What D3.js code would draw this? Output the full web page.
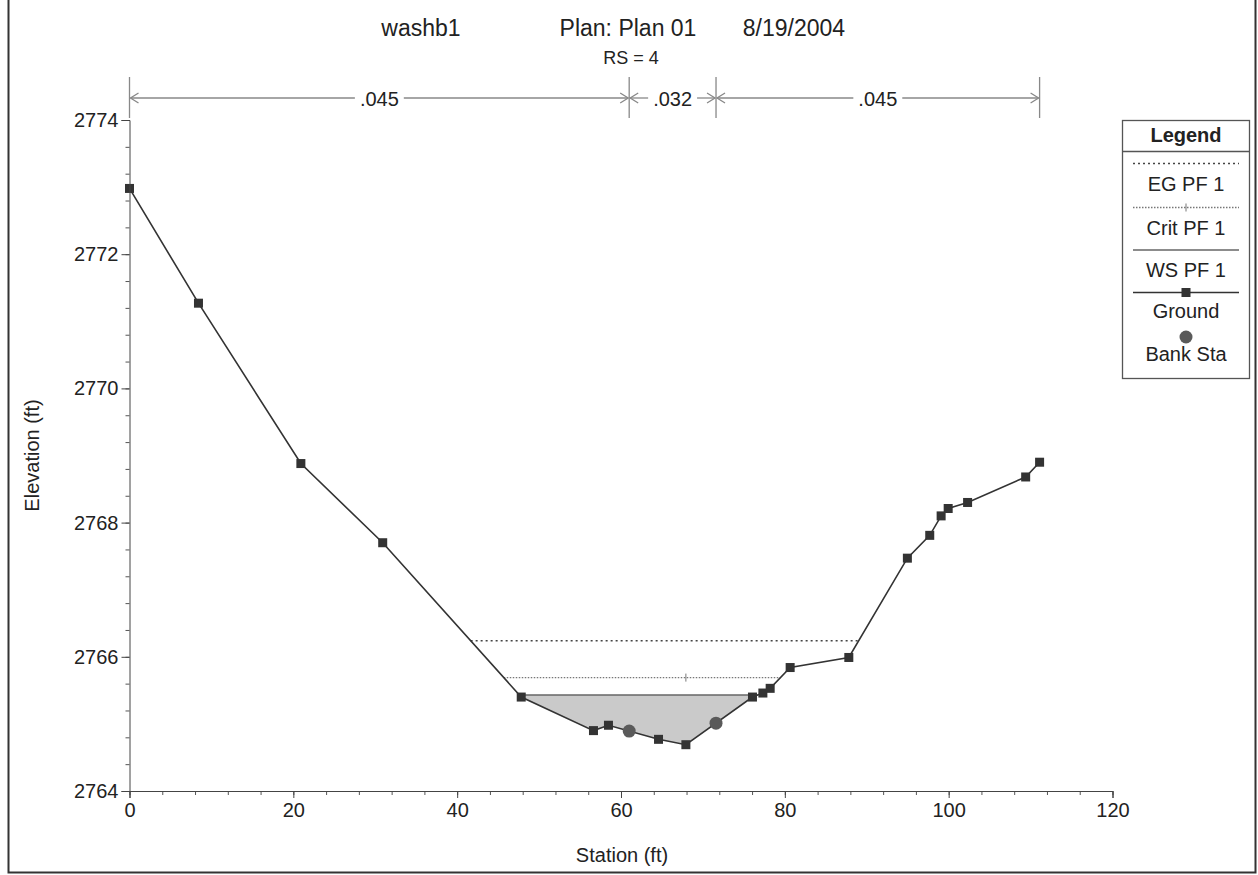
<!DOCTYPE html>
<html>
<head>
<meta charset="utf-8">
<script src="https://cdn.jsdelivr.net/npm/d3@7"></script>
<style>
  html, body { margin: 0; padding: 0; background: #fff; }
  svg { display: block; }
  text { font-family: Arial, 'Liberation Sans', sans-serif; fill: #222; }
</style>
</head>
<body>
<svg id="chart" width="1258" height="875"></svg>
<script>
// ground profile
let stations = [0, 8.42, 20.92, 30.91, 47.82, 56.64, 58.47, 64.58, 67.92, 76.05, 77.32, 78.21, 80.65, 87.81, 94.96, 97.69, 99.08, 99.94, 102.31, 109.40, 111.1]
let elevations = [2772.98, 2771.27, 2768.88, 2767.70, 2765.40, 2764.90, 2764.98, 2764.77, 2764.69, 2765.40, 2765.46, 2765.53, 2765.84, 2765.99, 2767.47, 2767.81, 2768.10, 2768.21, 2768.30, 2768.68, 2768.90]
let bankStations = [61.0, 71.6]

// water surface profiles
let profileNames = ['EG PF 1', 'Crit PF 1', 'WS PF 1']
let profileElev = [2766.24, 2765.69, 2765.43]

// manning n
let nValues = ['.045', '.032', '.045']
let nBreaks = [0, 61.0, 71.6, 111.1]

let xTicks = [0, 20, 40, 60, 80, 100, 120]
let yTicks = [2764, 2766, 2768, 2770, 2772, 2774]

let svg = d3.select('#chart')
let margin = { left: 129.5, right: 1112.5, top: 120, bottom: 791 }

let scaleX = d3.scaleLinear().domain([0, 120]).range([margin.left, margin.right])
let scaleY = d3.scaleLinear().domain([2764, 2774]).range([margin.bottom, margin.top])

let groundPts = stations.map((s, i) => [s, elevations[i]])

// elevation of ground at a station
function groundAt(x) {
  for (let i = 0; i < groundPts.length - 1; i++) {
    let a = groundPts[i], b = groundPts[i + 1]
    if (x >= a[0] && x <= b[0]) return a[1] + (b[1] - a[1]) * (x - a[0]) / (b[0] - a[0])
  }
  return null
}

// where a level crosses the ground on each side of the thalweg
function crossings(level) {
  let lo = d3.minIndex(elevations)
  let l = lo, r = lo
  while (l > 0 && elevations[l - 1] < level) l--
  while (r < elevations.length - 1 && elevations[r + 1] < level) r++
  let interp = (a, b) => a[0] + (b[0] - a[0]) * (level - a[1]) / (b[1] - a[1])
  let xl = interp(groundPts[l - 1], groundPts[l])
  let xr = interp(groundPts[r], groundPts[r + 1])
  return { xl, xr, l, r }
}

// frame
svg.append('path')
  .attr('d', `M8.5,0 V872.5 H1255.5 V0`)
  .attr('fill', 'none').attr('stroke', '#333').attr('stroke-width', 2)

// title
let title = svg.append('g').attr('font-size', 23)
title.append('text').attr('x', 421).attr('y', 36).attr('text-anchor', 'middle').text('washb1')
title.append('text').attr('x', 628).attr('y', 36).attr('text-anchor', 'middle').text('Plan: Plan 01')
title.append('text').attr('x', 794).attr('y', 36).attr('text-anchor', 'middle').text('8/19/2004')
svg.append('text').attr('x', 631).attr('y', 64).attr('text-anchor', 'middle')
  .attr('font-size', 18).text('RS = 4')

// water fill
let ws = crossings(profileElev[2])
let wet = [[ws.xl, profileElev[2]]]
for (let i = ws.l; i <= ws.r; i++) wet.push(groundPts[i])
wet.push([ws.xr, profileElev[2]])
svg.append('path')
  .attr('d', d3.line().x(d => scaleX(d[0])).y(d => scaleY(d[1]))(wet) + 'Z')
  .attr('fill', '#cacaca').attr('stroke', 'none')

// profile lines
let profileStyle = [
  { stroke: '#444', dash: '2,3', width: 1.6 },
  { stroke: '#777', dash: '1.5,1.5', width: 1.4 },
  { stroke: '#666', dash: null, width: 1.4 },
]
profileElev.forEach((el, i) => {
  let c = crossings(el)
  svg.append('line')
    .attr('x1', scaleX(c.xl)).attr('x2', scaleX(c.xr))
    .attr('y1', scaleY(el)).attr('y2', scaleY(el))
    .attr('stroke', profileStyle[i].stroke)
    .attr('stroke-width', profileStyle[i].width)
    .attr('stroke-dasharray', profileStyle[i].dash)
})
// crit marker at thalweg
let thal = stations[d3.minIndex(elevations)]
svg.append('line')
  .attr('x1', scaleX(thal)).attr('x2', scaleX(thal))
  .attr('y1', scaleY(profileElev[1]) - 4).attr('y2', scaleY(profileElev[1]) + 4)
  .attr('stroke', '#777')

// ground
svg.append('path')
  .attr('d', d3.line().x(d => scaleX(d[0])).y(d => scaleY(d[1]))(groundPts))
  .attr('fill', 'none').attr('stroke', '#333').attr('stroke-width', 1.6)
svg.selectAll('rect.gpt')
  .data(groundPts)
  .join('rect')
  .attr('class', 'gpt')
  .attr('x', d => scaleX(d[0]) - 4.5).attr('y', d => scaleY(d[1]) - 4.5)
  .attr('width', 9).attr('height', 9)
  .attr('fill', '#333')

// bank stations
svg.selectAll('circle.bank')
  .data(bankStations)
  .join('circle')
  .attr('class', 'bank')
  .attr('cx', d => scaleX(d)).attr('cy', d => scaleY(groundAt(d)))
  .attr('r', 6.5)
  .attr('fill', '#5a5a5a')

// axes
let xAxis = svg.append('g').attr('transform', `translate(0,${margin.bottom})`)
  .call(d3.axisBottom(scaleX).tickValues(d3.range(0, 121, 4)).tickSize(4).tickFormat(''))
xAxis.select('.domain').remove()
xAxis.selectAll('line').attr('stroke', '#555')
svg.append('g').attr('transform', `translate(0,${margin.bottom})`)
  .call(d3.axisBottom(scaleX).tickValues(xTicks).tickSize(7).tickPadding(5).tickFormat(d3.format('d')))
  .call(g => g.selectAll('text').attr('font-size', 20).attr('fill', '#222'))
  .call(g => g.selectAll('line,path').attr('stroke', '#444'))

let yAxisMinor = svg.append('g').attr('transform', `translate(${margin.left},0)`)
  .call(d3.axisLeft(scaleY).tickValues(d3.range(2764, 2774.01, 0.4)).tickSize(4).tickFormat(''))
yAxisMinor.select('.domain').remove()
yAxisMinor.selectAll('line').attr('stroke', '#555')
svg.append('g').attr('transform', `translate(${margin.left},0)`)
  .call(d3.axisLeft(scaleY).tickValues(yTicks).tickSize(8).tickPadding(3).tickFormat(d3.format('d')))
  .call(g => g.selectAll('text').attr('font-size', 20).attr('fill', '#222'))
  .call(g => g.selectAll('line,path').attr('stroke', '#444'))
svg.selectAll('.tick text').attr('font-family', null)
svg.selectAll('g').filter(function () { return this.getAttribute('font-family') }).attr('font-family', null)

svg.append('text')
  .attr('x', (margin.left + margin.right) / 2 + 1).attr('y', 862)
  .attr('text-anchor', 'middle').attr('font-size', 20).text('Station (ft)')
svg.append('text')
  .attr('transform', `translate(39,${(margin.top + margin.bottom) / 2}) rotate(-90)`)
  .attr('text-anchor', 'middle').attr('font-size', 20).text('Elevation (ft)')

// manning n bar
let nY = 98
let nGroup = svg.append('g').attr('stroke', '#888').attr('fill', 'none').attr('stroke-width', 1.3)
nBreaks.forEach(b => {
  nGroup.append('line')
    .attr('x1', scaleX(b)).attr('x2', scaleX(b))
    .attr('y1', 77).attr('y2', 118)
})
nValues.forEach((v, i) => {
  let x0 = scaleX(nBreaks[i]), x1 = scaleX(nBreaks[i + 1])
  let cx = (x0 + x1) / 2
  let t = svg.append('text').attr('x', cx).attr('y', nY + 8)
    .attr('text-anchor', 'middle').attr('font-size', 20).text(v)
  let tw = t.node().getComputedTextLength() / 2 + 5
  nGroup.append('line').attr('x1', x0 + 1).attr('x2', cx - tw).attr('y1', nY).attr('y2', nY)
  nGroup.append('line').attr('x1', cx + tw).attr('x2', x1 - 1).attr('y1', nY).attr('y2', nY)
  nGroup.append('path').attr('d', `M${x0 + 9},${nY - 5} L${x0 + 1},${nY} L${x0 + 9},${nY + 5}`)
  nGroup.append('path').attr('d', `M${x1 - 9},${nY - 5} L${x1 - 1},${nY} L${x1 - 9},${nY + 5}`)
})

// legend
let lg = svg.append('g')
lg.append('rect').attr('x', 1122.5).attr('y', 120.5).attr('width', 127).attr('height', 258)
  .attr('fill', '#fff').attr('stroke', '#555').attr('stroke-width', 1.3)
lg.append('line').attr('x1', 1122.5).attr('x2', 1249.5).attr('y1', 151.5).attr('y2', 151.5)
  .attr('stroke', '#555').attr('stroke-width', 1.3)
lg.append('text').attr('x', 1186).attr('y', 142).attr('text-anchor', 'middle')
  .attr('font-size', 20).attr('font-weight', 'bold').text('Legend')
let lx0 = 1133, lx1 = 1239, lcx = 1186
let legendRows = [163.5, 207.5, 250]
profileNames.forEach((name, i) => {
  let y = legendRows[i]
  lg.append('line').attr('x1', lx0).attr('x2', lx1).attr('y1', y).attr('y2', y)
    .attr('stroke', profileStyle[i].stroke).attr('stroke-width', profileStyle[i].width)
    .attr('stroke-dasharray', profileStyle[i].dash)
  lg.append('text').attr('x', lcx).attr('y', y + 27).attr('text-anchor', 'middle')
    .attr('font-size', 20).text(name)
})
lg.append('line').attr('x1', lcx).attr('x2', lcx).attr('y1', 203.5).attr('y2', 211.5).attr('stroke', '#777')
lg.append('line').attr('x1', lx0).attr('x2', lx1).attr('y1', 292.5).attr('y2', 292.5)
  .attr('stroke', '#333').attr('stroke-width', 1.6)
lg.append('rect').attr('x', lcx - 4.5).attr('y', 288).attr('width', 9).attr('height', 9).attr('fill', '#333')
lg.append('text').attr('x', lcx).attr('y', 318).attr('text-anchor', 'middle').attr('font-size', 20).text('Ground')
lg.append('circle').attr('cx', lcx).attr('cy', 337).attr('r', 6.5).attr('fill', '#5a5a5a')
lg.append('text').attr('x', lcx).attr('y', 361).attr('text-anchor', 'middle').attr('font-size', 20).text('Bank Sta')
</script>
</body>
</html>
